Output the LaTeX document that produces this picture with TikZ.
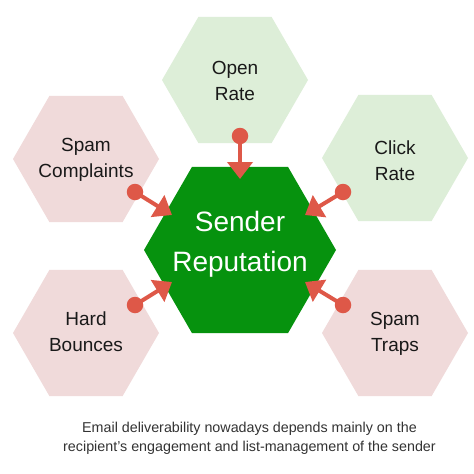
\documentclass[tikz,border=0pt]{standalone}
\usepackage{fontspec}
\setmainfont{Liberation Sans}
\usetikzlibrary{shapes.geometric,arrows.meta}
\definecolor{hexgreen}{RGB}{6,146,14}
\definecolor{lightgreen}{RGB}{221,238,216}
\definecolor{lightpink}{RGB}{240,218,218}
\definecolor{arrowred}{RGB}{222,88,72}
\definecolor{captiongray}{RGB}{51,51,51}
\begin{document}
\begin{tikzpicture}[x=1pt,y=-1pt,
 hexbase/.style={regular polygon, regular polygon sides=6, inner sep=0pt, draw=none},
 outerhex/.style={hexbase, minimum size=146pt},
 greenhex/.style={outerhex, fill=lightgreen},
 pinkhex/.style={outerhex, fill=lightpink},
 centerhex/.style={hexbase, minimum size=192pt, fill=hexgreen},
 hexlabel/.style={font=\fontsize{19}{26}\selectfont, align=center, text=black!90, inner sep=0pt},
 centertext/.style={font=\fontsize{28}{40}\selectfont, align=center, text=white, inner sep=0pt},
 dotnode/.style={circle, fill=arrowred, minimum size=16.5pt, inner sep=0pt},
 feed/.style={draw=arrowred, line width=4pt, -{Triangle[length=17pt,width=25pt]}},
 caption/.style={font=\fontsize{14.3}{19}\selectfont, align=center, text=captiongray, inner sep=0pt}
]
\fill[white] (0,0) rectangle (474,474);
\useasboundingbox (0,0) rectangle (474,474);

\node[centerhex] (rep) at (240,250) {};
\node[centertext] (reptext) at (240,244) {Sender\\Reputation};

\node[greenhex] (open) at (235,80) {};
\node[pinkhex] (spamc) at (86,159) {};
\node[greenhex] (click) at (395,158) {};
\node[pinkhex] (hard) at (86,333) {};
\node[pinkhex] (traps) at (395,333) {};

\node[hexlabel] (openl) at (235,80.5) {Open\\Rate};
\node[hexlabel] (spamcl) at (86,160) {Spam\\Complaints};
\node[hexlabel] (clickl) at (395,161) {Click\\Rate};
\node[hexlabel] (hardl) at (86,331.5) {Hard\\Bounces};
\node[hexlabel] (trapsl) at (395,333.5) {Spam\\Traps};

\node[dotnode] (d1) at (240,136) {};
\node[dotnode] (d2) at (135,192) {};
\node[dotnode] (d3) at (343,192) {};
\node[dotnode] (d4) at (135,305) {};
\node[dotnode] (d5) at (343,305) {};

\coordinate (t1) at (240,179);
\coordinate (t2) at (172,215);
\coordinate (t3) at (305,215);
\coordinate (t4) at (172,282);
\coordinate (t5) at (305,282);

\draw[feed] (d1.center) -- (t1);
\draw[feed] (d2.center) -- (t2);
\draw[feed] (d3.center) -- (t3);
\draw[feed] (d4.center) -- (t4);
\draw[feed] (d5.center) -- (t5);

\node[caption] (cap) at (249.5,438.3) {Email deliverability nowadays depends mainly on the\\recipient’s engagement and list-management of the sender};
\end{tikzpicture}
\end{document}
